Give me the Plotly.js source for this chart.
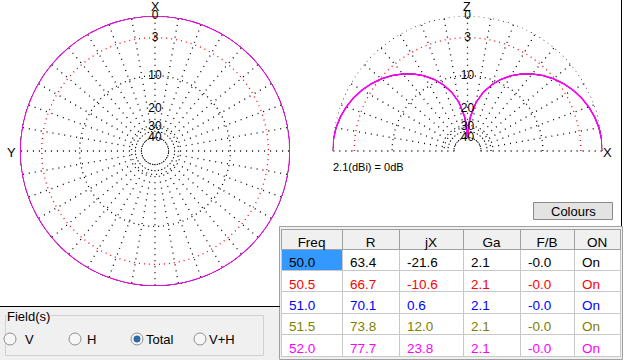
<!DOCTYPE html>
<html><head><meta charset="utf-8">
<script src="https://cdn.plot.ly/plotly-3.0.1.min.js"></script>
<style>html,body{margin:0;padding:0;background:#fff;overflow:hidden}#chart{width:627px;height:360px}</style>
</head><body><div id="chart"></div>
<script>
// ---- data ----
const frequencies = ['50.0', '50.5', '51.0', '51.5', '52.0'];
const resistance = [63.4, 66.7, 70.1, 73.8, 77.7];
const reactance = [-21.6, -10.6, 0.6, 12.0, 23.8];
const gainDbi = [2.1, 2.1, 2.1, 2.1, 2.1];
const frontBack = ['-0.0', '-0.0', '-0.0', '-0.0', '-0.0'];
const onState = ['On', 'On', 'On', 'On', 'On'];
const seriesColors = ['#000000', '#ff0000', '#0000ff', '#808000', '#ff00ff'];
const tableHeaders = ['Freq', 'R', 'jX', 'Ga', 'F/B', 'ON'];

// horizontal (azimuth) pattern, dB relative to 2.1 dBi
const azimuthDeg = [0,10,20,30,40,50,60,70,80,90,100,110,120,130,140,150,160,170,180,
  190,200,210,220,230,240,250,260,270,280,290,300,310,320,330,340,350,360];
const azimuthDb = [0,0,0,0,0,0,0,0,0,0,0,0,0,0,0,0,0,0,0,0,0,0,0,0,0,0,0,0,0,0,0,0,0,0,0,0,0];

// vertical (elevation) pattern, dB relative to 2.1 dBi
const elevationDeg = [0,5,10,15,20,25,30,35,40,45,50,55,60,65,70,75,80,85,87,89,90,
  91,93,95,100,105,110,115,120,125,130,135,140,145,150,155,160,165,170,175,180];
const elevationDb = [0,-0.05,-0.19,-0.44,-0.78,-1.22,-1.76,-2.41,-3.16,-4.04,-5.05,-6.22,-7.57,-9.19,-11.17,-13.7,-17.24,-23.27,-27.7,-37.3,-40,
  -37.3,-27.7,-23.27,-17.24,-13.7,-11.17,-9.19,-7.57,-6.22,-5.05,-4.04,-3.16,-2.41,-1.76,-1.22,-0.78,-0.44,-0.19,-0.05,0];

const ringLabels = ['0', '3', '10', '20', '30', '40'];
const ringLabelDb = [0, -3, -10, -20, -30, -40];
const blackRingsDb = [0, -10, -30, -40];
const redRingDb = -3;

// ---- ARRL log radial scale (0.89 per 2 dB) ----
const scaleR = db => Math.pow(0.89, -db / 2);
const rMin = scaleR(-40);

const W = 627, H = 360;
const px = x => x / W;
const py = y => 1 - y / H;
const FONT = 'Liberation Sans, Arial, sans-serif';

const traces = [];
function ring(db, color, subplot, maxTheta) {
  const th = [], rr = [];
  for (let a = 0; a <= maxTheta; a += 2) { th.push(a); rr.push(scaleR(db)); }
  traces.push({type: 'scatterpolar', subplot, theta: th, r: rr, mode: 'lines',
    line: {color, width: 1.3, dash: '1px,4px'}, hoverinfo: 'skip', cliponaxis: false});
}
['polar', 'polar2'].forEach((sp, i) => {
  const maxT = i === 0 ? 360 : 180;
  blackRingsDb.forEach(db => ring(db, '#000000', sp, maxT));
  ring(redRingDb, '#ff0000', sp, maxT);
});
frequencies.forEach((f, k) => {
  const top = k === frequencies.length - 1;
  const w = top ? 1.6 : 0.8;
  traces.push({type: 'scatterpolar', subplot: 'polar', theta: azimuthDeg, r: azimuthDb.map(scaleR),
    mode: 'lines', line: {color: seriesColors[k], width: w, shape: 'spline'}, hoverinfo: 'skip', cliponaxis: false});
  traces.push({type: 'scatterpolar', subplot: 'polar2', theta: elevationDeg, r: elevationDb.map(scaleR),
    mode: 'lines', line: {color: seriesColors[k], width: w}, hoverinfo: 'skip', cliponaxis: false});
});
['polar', 'polar2'].forEach((sp, i) => {
  traces.push({type: 'scatterpolar', subplot: sp, mode: 'text',
    theta: ringLabelDb.map(() => i === 0 ? 0 : 90), r: ringLabelDb.map(scaleR), text: ringLabels,
    textposition: 'middle center', textfont: {family: FONT, size: 12, color: '#000'},
    hoverinfo: 'skip', cliponaxis: false});
});

// table
const rowFont = frequencies.map((f, k) => seriesColors[k]);
const firstColFill = frequencies.map((f, k) => k === 0 ? '#3399ff' : '#ffffff');
traces.push({
  type: 'table',
  domain: {x: [px(281), px(620)], y: [py(358), py(229)]},
  columnwidth: [61, 57, 64, 57, 54, 46],
  header: {values: tableHeaders, align: 'center', height: 20,
    fill: {color: '#f0f0f0'}, line: {color: '#a0a0a0', width: 1},
    font: {family: FONT, size: 13.5, color: '#000'}},
  cells: {
    values: [frequencies, resistance.map(v => v.toFixed(1)), reactance.map(v => v.toFixed(1)),
      gainDbi.map(v => v.toFixed(1)), frontBack, onState],
    align: 'left', height: 21.4,
    fill: {color: [firstColFill, '#ffffff', '#ffffff', '#ffffff', '#ffffff', '#ffffff']},
    line: {color: '#c8c8c8', width: 1},
    font: {family: FONT, size: 13.5, color: tableHeaders.map(() => rowFont)}
  }
});

const polarCommon = {
  bgcolor: 'rgba(0,0,0,0)', hole: rMin,
  radialaxis: {range: [rMin, 1], showgrid: false, showline: false, showticklabels: false, ticks: ''},
};
const shapes = [
  {type: 'rect', xref: 'paper', yref: 'paper', x0: px(0), x1: px(279), y0: py(360), y1: py(307), fillcolor: '#f0f0f0', line: {width: 0}, layer: 'below'},
  {type: 'line', xref: 'paper', yref: 'paper', x0: px(0), x1: px(280), y0: py(306.5), y1: py(306.5), line: {color: '#000', width: 1}},
  {type: 'rect', xref: 'paper', yref: 'paper', x0: px(279.5), x1: px(622.5), y0: py(359.5), y1: py(226.5), fillcolor: '#f0f0f0', line: {color: '#a0a0a0', width: 1}, layer: 'below'},
  {type: 'line', xref: 'paper', yref: 'paper', x0: px(621.5), x1: px(621.5), y0: py(0), y1: py(226), line: {color: '#000', width: 1}},
  {type: 'rect', xref: 'paper', yref: 'paper', x0: px(5.5), x1: px(263.5), y0: py(355.5), y1: py(315.5), line: {color: '#d0d0d0', width: 1}},
  {type: 'rect', xref: 'paper', yref: 'paper', x0: px(533.5), x1: px(612.5), y0: py(219.5), y1: py(202.5), fillcolor: '#e3e3e3', line: {color: '#8a8a8a', width: 1}},
];
[10, 75, 137, 200].forEach((cx, i) => {
  shapes.push({type: 'circle', xref: 'paper', yref: 'paper', x0: px(cx - 6), x1: px(cx + 6), y0: py(345), y1: py(333),
    fillcolor: '#f6f6f6', line: {color: '#8e8f8f', width: 1}});
  if (i === 2) shapes.push({type: 'circle', xref: 'paper', yref: 'paper', x0: px(cx - 3.2), x1: px(cx + 3.2), y0: py(342.2), y1: py(335.8),
    fillcolor: '#2b6cb0', line: {color: '#1d4f86', width: 0.5}});
});
function ann(text, x, y, size, anchor, extra) {
  return Object.assign({text, x: px(x), y: py(y), xref: 'paper', yref: 'paper', showarrow: false,
    xanchor: anchor || 'center', yanchor: 'middle', font: {family: FONT, size: size || 12, color: '#000'}}, extra || {});
}
const annotations = [
  ann('X', 155, 6.5, 12.5), ann('Y', 11.5, 152, 13), ann('Z', 467, 6.5, 12.5), ann('X', 607, 152, 13),
  ann('2.1(dBi) = 0dB', 331, 167, 11, 'left'),
  ann('Colours', 573, 211, 13),
  ann('Field(s)', 6, 316, 13, 'left', {bgcolor: '#f0f0f0', borderpad: 0}),
  ann('V', 23, 339, 13, 'left'), ann('H', 85, 339, 13, 'left'),
  ann('Total', 144, 339, 13, 'left'), ann('V+H', 207, 339, 13, 'left'),
];

const layout = {
  width: W, height: H, margin: {l: 0, r: 0, t: 0, b: 0}, paper_bgcolor: '#ffffff', showlegend: false,
  polar: Object.assign({}, polarCommon, {
    domain: {x: [px(20), px(290)], y: [py(286), py(16)]}, sector: [0, 360],
    angularaxis: {rotation: 90, direction: 'counterclockwise', tickmode: 'linear', tick0: 0, dtick: 10,
      showgrid: true, gridcolor: '#000', gridwidth: 1.3, griddash: '1px,5px', showline: false, showticklabels: false, ticks: ''}
  }),
  polar2: Object.assign({}, polarCommon, {
    domain: {x: [px(332), px(603)], y: [py(151), py(16)]}, sector: [0, 180],
    angularaxis: {rotation: 0, direction: 'counterclockwise', tickmode: 'linear', tick0: 0, dtick: 10,
      showgrid: true, gridcolor: '#000', gridwidth: 1.3, griddash: '1px,5px', showline: false, showticklabels: false, ticks: ''}
  }),
  shapes, annotations
};
Plotly.newPlot('chart', traces, layout, {staticPlot: true, displayModeBar: false});
</script></body></html>
